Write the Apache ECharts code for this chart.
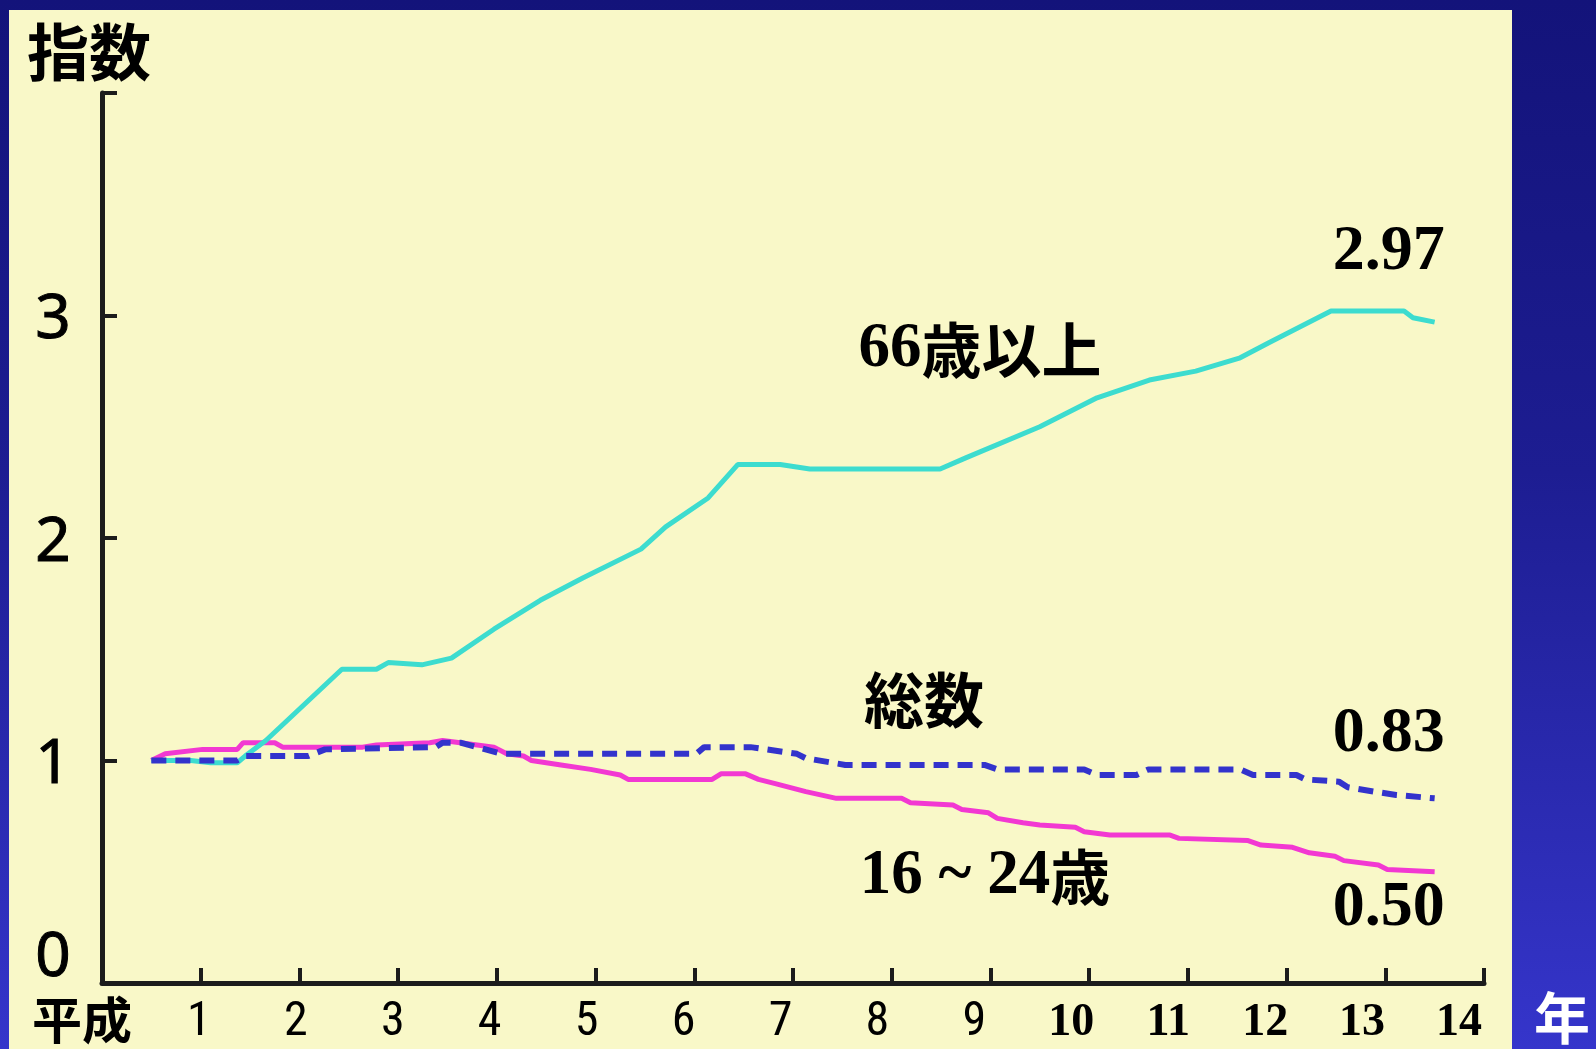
<!DOCTYPE html>
<html>
<head>
<meta charset="utf-8">
<script src="https://cdn.jsdelivr.net/npm/echarts@6/dist/echarts.min.js"></script>
<style>
  html, body {
    margin: 0; padding: 0; width: 1596px; height: 1049px; overflow: hidden;
    background: linear-gradient(to bottom, #13137a 0%, #1d1d92 45%, #2a2ab0 75%, #3535cb 100%);
  }
  #panel { position: absolute; left: 9px; top: 10px; width: 1503px; height: 1039px; background: #f9f8c8; }
  #chart { position: absolute; left: 0; top: 0; width: 1596px; height: 1049px; }
</style>
</head>
<body>
<div id="panel"></div>
<div id="chart"></div>
<script>
// 平成年 tick labels and index tick labels
const yearLabels = ['1', '2', '3', '4', '5', '6', '7', '8', '9', '10', '11', '12', '13', '14'];
const indexLabels = ['0', '1', '2', '3'];

// 66歳以上 (index, 平成元年 = 1)
const elderX = [0.5, 0.9, 1.1, 1.37, 1.45, 1.66, 2.43, 2.78, 2.9, 3.24, 3.54, 3.97, 4.44, 4.87, 5.46, 5.71, 6.14, 6.44,
  6.87, 7.17, 8.49, 8.75, 9.5, 10.08, 10.61, 11.08, 11.53, 11.83, 12.45, 13.19, 13.28, 13.5];
const elderY = [1.0, 1.0, 0.99, 0.99, 1.02, 1.09, 1.41, 1.41, 1.44, 1.43, 1.46, 1.59, 1.72, 1.82, 1.95, 2.05, 2.18, 2.33,
  2.33, 2.31, 2.31, 2.36, 2.5, 2.63, 2.71, 2.75, 2.81, 2.88, 3.02, 3.02, 2.99, 2.97];

// 総数
const totalX = [0.5, 0.98, 1.37, 1.45, 2.09, 2.26, 3.38, 3.45, 3.63, 3.8, 4.05, 6.02, 6.1, 6.57, 7.04, 7.13, 7.53, 8.94,
  9.07, 9.95, 10.08, 10.48, 10.6, 11.53, 11.66, 12.1, 12.19, 12.53, 12.62, 12.89, 13.11, 13.5];
const totalY = [1.0, 1.0, 1.0, 1.02, 1.02, 1.05, 1.06, 1.08, 1.08, 1.06, 1.03, 1.03, 1.06, 1.06, 1.03, 1.01, 0.98, 0.98,
  0.96, 0.96, 0.935, 0.935, 0.96, 0.96, 0.935, 0.935, 0.915, 0.905, 0.88, 0.86, 0.845, 0.83];

// 16～24歳
const youthX = [0.5, 0.64, 1.02, 1.37, 1.43, 1.75, 1.83, 2.64, 2.78, 3.32, 3.45, 3.63, 3.97, 4.1, 4.27, 4.35, 4.65, 4.95,
  5.25, 5.33, 6.18, 6.27, 6.52, 6.65, 6.83, 7.13, 7.44, 8.1, 8.19, 8.62, 8.71, 8.98, 9.07, 9.33, 9.5, 9.86, 9.95,
  10.21, 10.82, 10.91, 11.61, 11.74, 12.06, 12.23, 12.49, 12.58, 12.93, 13.02, 13.5];
const youthY = [1.0, 1.03, 1.05, 1.05, 1.08, 1.08, 1.06, 1.06, 1.07, 1.08, 1.09, 1.08, 1.06, 1.03, 1.02, 1.0, 0.98, 0.96,
  0.935, 0.915, 0.915, 0.94, 0.94, 0.915, 0.895, 0.86, 0.83, 0.83, 0.81, 0.8, 0.78, 0.765, 0.74, 0.72, 0.71, 0.7, 0.68,
  0.665, 0.665, 0.65, 0.64, 0.62, 0.61, 0.585, 0.57, 0.55, 0.53, 0.51, 0.5];

const SERIF = '"Liberation Serif", "Times New Roman", serif';
const SANS = '"Noto Sans", "Open Sans", sans-serif';
const NARROW = '"Roboto Condensed", "Noto Sans", sans-serif';
const CJK = '"Noto Sans CJK JP", "Noto Sans CJK SC", sans-serif';
const whiteShadow = { textShadowColor: 'rgba(255,255,255,0.95)', textShadowOffsetX: 2, textShadowOffsetY: 2, textShadowBlur: 0 };

const pairs = (xs, ys) => xs.map((x, i) => [x, ys[i]]);

// value label placed relative to the last point of a series
const endMark = (xs, ys, offset) => ({
  symbol: 'circle', symbolSize: 2, silent: true,
  itemStyle: { color: 'rgba(0,0,0,0)' },
  data: [{ coord: [xs[xs.length - 1], ys[ys.length - 1]], value: ys[ys.length - 1] }],
  label: Object.assign({
    show: true, position: 'inside', offset: offset,
    formatter: p => p.value.toFixed(2),
    color: '#000', fontFamily: SERIF, fontWeight: 'bold', fontSize: 64
  }, whiteShadow)
});

const axisLine = { show: true, lineStyle: { color: '#1c1c1c', width: 5 } };
const axisTick = { show: true, inside: true, length: 15, lineStyle: { color: '#1c1c1c', width: 4 } };

const chart = echarts.init(document.getElementById('chart'), null, { renderer: 'canvas' });

chart.setOption({
  animation: false,
  backgroundColor: 'transparent',
  grid: [
    { left: 102, right: 112, top: 93, bottom: 66 },
    { left: 102, right: 137, top: 93, bottom: 66 }
  ],
  xAxis: [
    {
      type: 'value', gridIndex: 0, min: 0, max: 14, interval: 1,
      axisLine: axisLine, axisTick: axisTick, axisLabel: { show: false }, splitLine: { show: false }
    },
    {
      type: 'value', gridIndex: 1, min: 0, max: 14, interval: 1,
      axisLine: { show: false }, axisTick: { show: false }, splitLine: { show: false },
      axisLabel: Object.assign({
        show: true, margin: 40, verticalAlign: 'middle',
        fontFamily: NARROW, fontSize: 48, color: '#000',
        // years 1-9 use the axis-level condensed sans; 10-14 switch to bold serif
        formatter: v => {
          if (v < 1) return '';
          const t = yearLabels[v - 1];
          return v < 10 ? t : '{ser|' + t + '}';
        },
        rich: {
          ser: Object.assign({ fontFamily: SERIF, fontWeight: 'bold', fontSize: 46, color: '#000' }, whiteShadow)
        }
      }, whiteShadow)
    }
  ],
  yAxis: [
    {
      type: 'value', gridIndex: 0, min: 0, max: 4, interval: 1,
      axisLine: axisLine, axisTick: axisTick, splitLine: { show: false },
      axisLabel: {
        show: true, margin: 49, align: 'center', verticalAlign: 'middle',
        formatter: v => {
          if (v >= indexLabels.length) return '';
          return v === 0 ? '{z|' + indexLabels[0] + '}' : '{n|' + indexLabels[v] + '}';
        },
        rich: {
          n: Object.assign({ fontFamily: SANS, fontSize: 62, color: '#000', textBorderColor: '#000', textBorderWidth: 1,
            padding: [10, 0, 0, 0] }, whiteShadow),
          z: Object.assign({ fontFamily: SANS, fontSize: 62, color: '#000', textBorderColor: '#000', textBorderWidth: 1,
            padding: [0, 0, 50, 0] }, whiteShadow)
        }
      }
    },
    { type: 'value', gridIndex: 1, min: 0, max: 4, show: false }
  ],
  series: [
    {
      name: '総数', type: 'line', xAxisIndex: 0, yAxisIndex: 0, z: 3,
      data: pairs(totalX, totalY), symbol: 'none', showSymbol: false,
      lineStyle: { color: '#3333cc', width: 6, type: [15, 9] },
      markPoint: endMark(totalX, totalY, [-46, -64])
    },
    {
      name: '16～24歳', type: 'line', xAxisIndex: 0, yAxisIndex: 0, z: 2,
      data: pairs(youthX, youthY), symbol: 'none', showSymbol: false,
      lineStyle: { color: '#f238d2', width: 5 },
      markPoint: endMark(youthX, youthY, [-46, 37])
    },
    {
      name: '66歳以上', type: 'line', xAxisIndex: 0, yAxisIndex: 0, z: 2,
      data: pairs(elderX, elderY), symbol: 'none', showSymbol: false,
      lineStyle: { color: '#3ddccf', width: 5 },
      markPoint: endMark(elderX, elderY, [-46, -70])
    }
  ],
  graphic: [
    {
      type: 'text', x: 89, y: 52, z: 10,
      style: Object.assign({ text: '指数', align: 'center', verticalAlign: 'middle',
        font: 'bold 62px ' + CJK, fill: '#000' }, whiteShadow)
    },
    {
      type: 'text', x: 82, y: 1020, z: 10,
      style: Object.assign({ text: '平成', align: 'center', verticalAlign: 'middle',
        font: 'bold 50px ' + CJK, fill: '#000' }, whiteShadow)
    },
    {
      type: 'text', x: 1562, y: 1018, z: 10,
      style: { text: '年', align: 'center', verticalAlign: 'middle', font: 'bold 56px ' + CJK, fill: '#ffffff',
        textShadowColor: 'rgba(0,0,0,0.9)', textShadowOffsetX: 2, textShadowOffsetY: 2 }
    },
    {
      type: 'text', x: 980, y: 350, z: 10,
      style: {
        text: '{d|66}{c|歳以上}', align: 'center', verticalAlign: 'middle',
        rich: {
          d: Object.assign({ fontFamily: SERIF, fontWeight: 'bold', fontSize: 63, fill: '#000' }, whiteShadow),
          c: Object.assign({ fontFamily: CJK, fontWeight: 'bold', fontSize: 60, fill: '#000' }, whiteShadow)
        }
      }
    },
    {
      type: 'text', x: 924, y: 700, z: 10,
      style: Object.assign({ text: '総数', align: 'center', verticalAlign: 'middle',
        font: 'bold 60px ' + CJK, fill: '#000' }, whiteShadow)
    },
    {
      type: 'text', x: 985, y: 877, z: 10,
      style: {
        text: '{d|16 ~ 24}{c|歳}', align: 'center', verticalAlign: 'middle',
        rich: {
          d: Object.assign({ fontFamily: SERIF, fontWeight: 'bold', fontSize: 63, fill: '#000' }, whiteShadow),
          c: Object.assign({ fontFamily: CJK, fontWeight: 'bold', fontSize: 60, fill: '#000' }, whiteShadow)
        }
      }
    }
  ]
});
</script>
</body>
</html>
